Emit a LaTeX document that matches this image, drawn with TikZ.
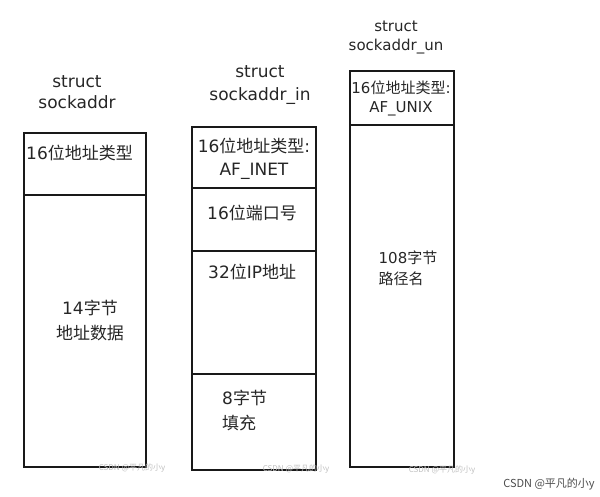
\documentclass[tikz,border=0pt]{standalone}
\usepackage{fontspec}
\setmainfont{DejaVu Sans}
\newfontfamily\cjk{Noto Sans CJK SC}
\usepackage{xcolor}
\usetikzlibrary{positioning}

\begin{document}
\begin{tikzpicture}[
  x=1pt, y=-1pt,
  font=\fontsize{17}{21}\selectfont,
  fieldbox/.style={draw=black!90, line width=2.4pt, inner sep=0pt,
                   outer sep=0pt, minimum width=#1},
  title/.style={align=center, inner sep=0pt, text=black!85},
  field/.style={inner sep=0pt, text=black!85},
  small/.style={font=\fontsize{15}{19}\selectfont},
  wmark/.style={inner sep=0pt, text=black!25, font=\cjk\fontsize{8}{9}\selectfont},
  credit/.style={inner sep=0pt, text=black!70, font=\cjk\fontsize{11}{12}\selectfont}
]
\useasboundingbox (0,0) rectangle (600,496);
%--- Column 1: struct sockaddr ----------------------------------------------
\node[title] (sa) at (77,92) {struct\\sockaddr};
\node[fieldbox=122pt, minimum height=62pt, anchor=north west] (safam) at (24,133) {};
\node[fieldbox=122pt, minimum height=272pt, below=0pt of safam] (sadata) {};
\node[field, anchor=west] (safamtxt) at (26,153) {16{\cjk 位地址类型}};
\node[field, align=center] (sadatatxt) at (90,320)
  {14{\cjk 字节}\\[4pt]{\cjk 地址数据}};
%--- Column 2: struct sockaddr_in -------------------------------------------
\node[title, font=\fontsize{17}{23}\selectfont] (sin) at (260,85) {struct\\sockaddr\_in};
\node[fieldbox=124pt, minimum height=61pt, anchor=north west] (sinfam) at (192,127) {};
\node[fieldbox=124pt, minimum height=63pt, below=0pt of sinfam] (sinport) {};
\node[fieldbox=124pt, minimum height=123pt, below=0pt of sinport] (sinaddr) {};
\node[fieldbox=124pt, minimum height=96pt, below=0pt of sinaddr] (sinzero) {};
\node[field, align=center] (sinfamtxt) at (254,159)
  {16{\cjk 位地址类型}:\\[2pt]AF\_INET};
\node[field, anchor=west] (sinporttxt) at (207,213) {16{\cjk 位端口号}};
\node[field, anchor=west] (sinaddrtxt) at (208,272) {32{\cjk 位}IP{\cjk 地址}};
\node[field, align=left, anchor=west] (sinzerotxt) at (222,410)
  {8{\cjk 字节}\\[4pt]{\cjk 填充}};
%--- Column 3: struct sockaddr_un -------------------------------------------
\node[title, small] (sun) at (396,37) {struct\\sockaddr\_un};
\node[fieldbox=104pt, minimum height=54pt, anchor=north west] (sunfam) at (350,71) {};
\node[fieldbox=104pt, minimum height=342pt, below=0pt of sunfam] (sunpath) {};
\node[field, small, align=center] (sunfamtxt) at (401,98)
  {16{\cjk 位地址类型}:\\AF\_UNIX};
\node[field, small, align=left] (sunpathtxt) at (408,268)
  {108{\cjk 字节}\\[2pt]{\cjk 路径名}};
%--- Watermarks -------------------------------------------------------------
\node[wmark] (wm1) at (132,468) {CSDN @平凡的小y};
\node[wmark] (wm2) at (296,469) {CSDN @平凡的小y};
\node[wmark] (wm3) at (442,470) {CSDN @平凡的小y};
\node[credit] (csdn) at (549,484) {CSDN @平凡的小y};
\end{tikzpicture}
\end{document}
